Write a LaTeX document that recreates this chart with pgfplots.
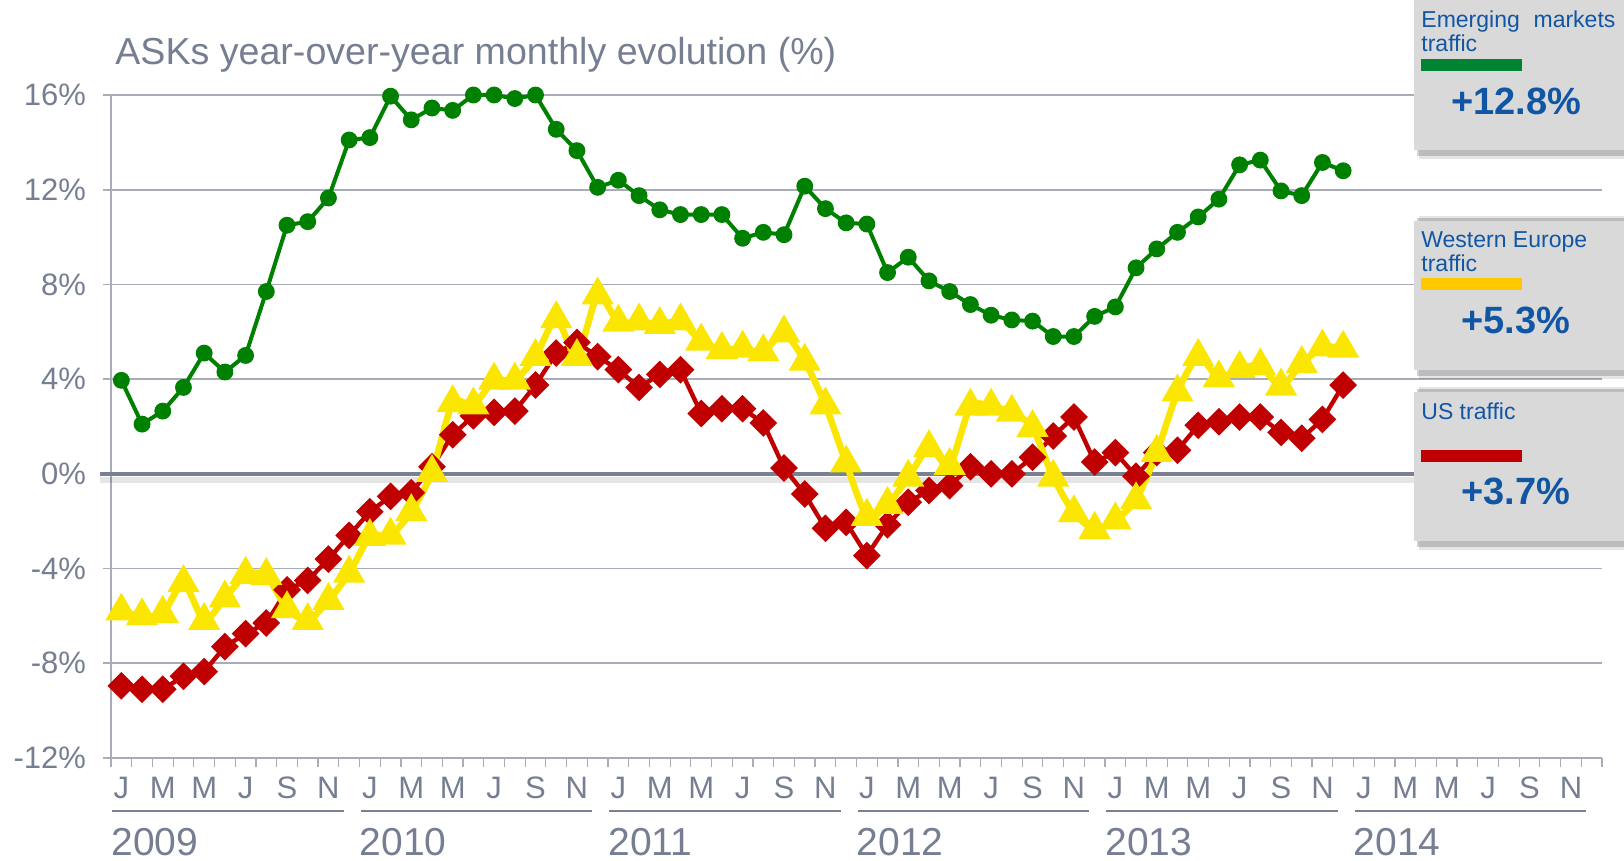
\documentclass[border=0pt]{standalone}
\usepackage{pgfplots}
\pgfplotsset{compat=1.18}
\usepackage{pgfplotstable}
\usepackage{fontspec}
\setmainfont{Liberation Sans}

\definecolor{txtgrey}{RGB}{118,126,146}
\definecolor{gridgrey}{RGB}{168,172,182}
\definecolor{zerogrey}{RGB}{120,128,145}
\definecolor{emgreen}{RGB}{0,128,0}
\definecolor{weyellow}{RGB}{250,230,0}
\definecolor{usred}{RGB}{192,0,0}
\definecolor{boxgrey}{RGB}{217,217,217}
\definecolor{boxblue}{RGB}{16,86,164}
\definecolor{bargreen}{RGB}{0,132,52}
\definecolor{baramber}{RGB}{255,200,0}

% month index (0 = Jan 2009), emerging markets, western europe, US
\pgfplotstableread{
m em we us
0 3.95 -5.8 -8.95
1 2.1 -6.0 -9.1
2 2.65 -5.9 -9.1
3 3.65 -4.6 -8.55
4 5.1 -6.2 -8.35
5 4.3 -5.25 -7.3
6 5.0 -4.25 -6.75
7 7.7 -4.3 -6.3
8 10.5 -5.7 -4.9
9 10.65 -6.2 -4.5
10 11.65 -5.35 -3.6
11 14.1 -4.2 -2.6
12 14.2 -2.65 -1.6
13 15.95 -2.6 -0.95
14 14.95 -1.6 -0.8
15 15.45 0.05 0.3
16 15.35 3.0 1.65
17 16.0 2.9 2.45
18 16.0 3.95 2.6
19 15.85 3.95 2.65
20 16.0 4.95 3.75
21 14.55 6.55 5.1
22 13.65 4.95 5.55
23 12.1 7.55 4.95
24 12.4 6.4 4.4
25 11.75 6.45 3.65
26 11.15 6.3 4.2
27 10.95 6.45 4.4
28 10.95 5.6 2.55
29 10.95 5.25 2.75
30 9.95 5.3 2.75
31 10.2 5.15 2.15
32 10.1 5.95 0.25
33 12.15 4.75 -0.85
34 11.2 2.9 -2.3
35 10.6 0.45 -2.05
36 10.55 -1.8 -3.45
37 8.5 -1.3 -2.15
38 9.15 -0.15 -1.2
39 8.15 1.1 -0.7
40 7.7 0.35 -0.5
41 7.15 2.85 0.3
42 6.7 2.85 0.0
43 6.5 2.6 0.0
44 6.45 1.95 0.7
45 5.8 -0.15 1.6
46 5.8 -1.65 2.4
47 6.65 -2.35 0.5
48 7.05 -1.95 0.9
49 8.7 -1.1 -0.1
50 9.5 0.9 0.9
51 10.2 3.45 1.0
52 10.85 4.95 2.05
53 11.6 4.05 2.2
54 13.05 4.45 2.4
55 13.25 4.55 2.4
56 11.95 3.7 1.75
57 11.75 4.65 1.5
58 13.15 5.35 2.3
59 12.8 5.3 3.75
}\asks

\begin{document}
\begin{tikzpicture}
\path[use as bounding box] (0,0) rectangle (812pt,430.5pt);
\begin{axis}[
  at={(55.5pt,51.5pt)}, anchor=south west,
  scale only axis, width=745.5pt, height=331.5pt,
  xmin=-0.5, xmax=71.5, ymin=-12, ymax=16,
  axis x line*=bottom, axis y line*=left,
  axis line style={draw=gridgrey, line width=0.8pt, -},
  ytick={-12,-8,...,16},
  yticklabels={-12\%,-8\%,-4\%,0\%,4\%,8\%,12\%,16\%},
  ymajorgrids, grid style={draw=gridgrey, line width=0.8pt},
  xtick={0,2,...,70},
  xticklabels={J,M,M,J,S,N,J,M,M,J,S,N,J,M,M,J,S,N,J,M,M,J,S,N,J,M,M,J,S,N,J,M,M,J,S,N},
  minor xtick={-0.5,0.5,...,71.5},
  major x tick style={draw=none},
  minor x tick style={draw=gridgrey, line width=0.6pt},
  ytick style={draw=gridgrey, line width=0.8pt},
  tick align=outside, major tick length=4pt, minor tick length=4.5pt,
  xticklabel style={font=\fontsize{15.5}{16}\selectfont, text=txtgrey, yshift=-2pt},
  yticklabel style={font=\fontsize{15.5}{16}\selectfont, text=txtgrey, xshift=-5pt},
  clip=false,
]
% zero line with its shadow
\draw[black, opacity=0.10, line width=3pt, yshift=-3pt] (axis cs:-1.03,0) -- (axis cs:71.5,0);
\draw[zerogrey, line width=2pt] (axis cs:-1.03,0) -- (axis cs:71.5,0);

% year labels and their rules
\draw[zerogrey, line width=1.4pt] (axis cs:-0.45,-14.24) -- (axis cs:10.75,-14.24);
\draw[zerogrey, line width=1.4pt] (axis cs:11.55,-14.24) -- (axis cs:22.75,-14.24);
\draw[zerogrey, line width=1.4pt] (axis cs:23.55,-14.24) -- (axis cs:34.75,-14.24);
\draw[zerogrey, line width=1.4pt] (axis cs:35.55,-14.24) -- (axis cs:46.75,-14.24);
\draw[zerogrey, line width=1.4pt] (axis cs:47.55,-14.24) -- (axis cs:58.75,-14.24);
\draw[zerogrey, line width=1.4pt] (axis cs:59.55,-14.24) -- (axis cs:70.75,-14.24);
\node[anchor=base west, inner sep=0pt, font=\fontsize{19.5}{20}\selectfont, text=txtgrey] at (axis cs:-0.5,-16.1) {2009};
\node[anchor=base west, inner sep=0pt, font=\fontsize{19.5}{20}\selectfont, text=txtgrey] at (axis cs:11.5,-16.1) {2010};
\node[anchor=base west, inner sep=0pt, font=\fontsize{19.5}{20}\selectfont, text=txtgrey] at (axis cs:23.5,-16.1) {2011};
\node[anchor=base west, inner sep=0pt, font=\fontsize{19.5}{20}\selectfont, text=txtgrey] at (axis cs:35.5,-16.1) {2012};
\node[anchor=base west, inner sep=0pt, font=\fontsize{19.5}{20}\selectfont, text=txtgrey] at (axis cs:47.5,-16.1) {2013};
\node[anchor=base west, inner sep=0pt, font=\fontsize{19.5}{20}\selectfont, text=txtgrey] at (axis cs:59.5,-16.1) {2014};

\addplot[emgreen, line width=2pt, mark=*, mark size=3.2pt] table[x=m, y=em] {\asks};
\addplot[usred, line width=2.2pt, mark=square*, mark size=3.8pt, mark options={rotate=45}] table[x=m, y=us] {\asks};
\addplot[weyellow, line width=3.3pt, smooth, tension=0.4, mark=triangle*, mark size=6pt] table[x=m, y=we] {\asks};
\end{axis}

\begin{scope}[x=0.5pt, y=0.5pt]
% title
\node[anchor=base west, inner sep=0pt, font=\fontsize{18.8}{19}\selectfont, text=txtgrey]
  at (115,796) {ASKs year-over-year monthly evolution (\%)};

% side boxes: shadow then box
\fill[black, opacity=0.10] (1419,702) rectangle (1624,866);
\fill[black, opacity=0.18] (1417,705) rectangle (1624,866);
\fill[boxgrey] (1414,711) rectangle (1624,866);
\fill[black, opacity=0.10] (1419,482) rectangle (1624,645);
\fill[black, opacity=0.18] (1417,485) rectangle (1624,643);
\fill[boxgrey] (1414,491) rectangle (1624,640);
\fill[black, opacity=0.10] (1419,311) rectangle (1624,474);
\fill[black, opacity=0.18] (1417,314) rectangle (1624,472);
\fill[boxgrey] (1414,320) rectangle (1624,469);

\node[anchor=base west, inner sep=0pt, font=\fontsize{11.5}{12}\selectfont, text=boxblue] at (1421,833) {Emerging\hspace{0.6em}markets};
\node[anchor=base west, inner sep=0pt, font=\fontsize{11.5}{12}\selectfont, text=boxblue] at (1421,809) {traffic};
\fill[bargreen] (1421,790) rectangle (1522,802);
\node[anchor=base, inner sep=0pt, font=\bfseries\fontsize{19}{19}\selectfont, text=boxblue] at (1516,746) {+12.8\%};

\node[anchor=base west, inner sep=0pt, font=\fontsize{11.5}{12}\selectfont, text=boxblue] at (1421,613) {Western Europe};
\node[anchor=base west, inner sep=0pt, font=\fontsize{11.5}{12}\selectfont, text=boxblue] at (1421,589) {traffic};
\fill[baramber] (1421,571) rectangle (1522,583);
\node[anchor=base, inner sep=0pt, font=\bfseries\fontsize{19}{19}\selectfont, text=boxblue] at (1516,527) {+5.3\%};

\node[anchor=base west, inner sep=0pt, font=\fontsize{11.5}{12}\selectfont, text=boxblue] at (1421,441) {US traffic};
\fill[usred] (1421,399) rectangle (1522,411);
\node[anchor=base, inner sep=0pt, font=\bfseries\fontsize{19}{19}\selectfont, text=boxblue] at (1516,356) {+3.7\%};
\end{scope}
\end{tikzpicture}
\end{document}
